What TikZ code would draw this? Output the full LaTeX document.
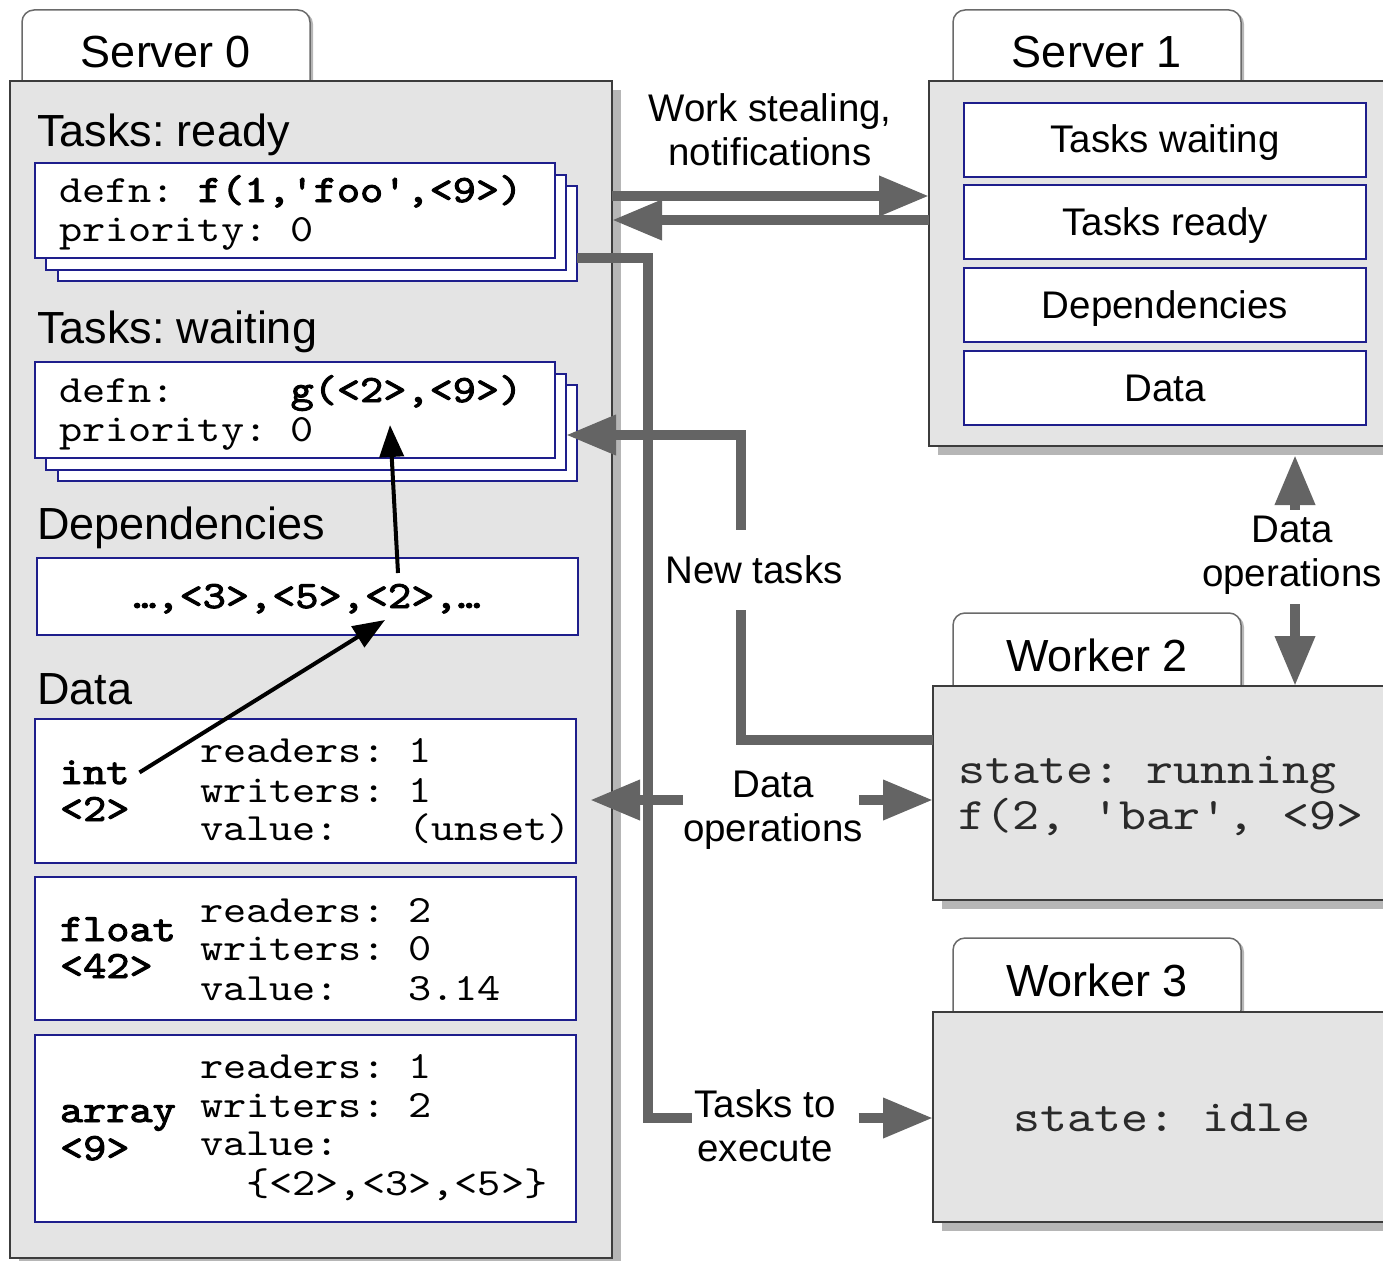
\documentclass[tikz,border=0pt]{standalone}
\usepackage{fontspec}
\setmainfont{Liberation Sans}
\setmonofont{lmmono10-regular.otf}[FakeStretch=1.143, BoldFont=lmmono10-regular.otf, BoldFeatures={FakeBold=2.5}]
\usetikzlibrary{arrows.meta,shadows,calc}
\frenchspacing
\definecolor{boxfill}{HTML}{E4E4E4}
\definecolor{boxline}{HTML}{3C3C3C}
\definecolor{shade}{HTML}{B6B6B6}
\definecolor{navy}{HTML}{1E1E8C}
\definecolor{flow}{HTML}{646464}
\definecolor{tabline}{HTML}{6A6A6A}
\definecolor{wtext}{HTML}{2A2A2A}
\begin{document}
\begin{tikzpicture}[x=1pt,y=-1pt,
  every node/.style={inner sep=0pt, outer sep=0pt},
  tab/.style={draw=tabline, fill=white, line width=1.5pt, rounded corners=12pt,
    anchor=north west, minimum width=288pt, minimum height=84pt,
    font=\fontsize{45}{50}\selectfont,
    drop shadow={shadow xshift=3pt, shadow yshift=-2pt, fill=shade, opacity=1}},
  host/.style={draw=boxline, fill=boxfill, line width=2pt, rectangle, anchor=north west,
    drop shadow={shadow xshift=9pt, shadow yshift=-9pt, fill=shade, opacity=1}},
  slot/.style={draw=navy, fill=white, line width=1.6pt, rectangle, anchor=north west},
  heading/.style={font=\fontsize{45}{50}\selectfont, anchor=base west},
  inlbl/.style={font=\fontsize{38.5}{44}\selectfont, text height=27pt, text depth=1pt},
  flowlbl/.style={font=\fontsize{38.5}{44}\selectfont, align=center},
  mono/.style={font=\ttfamily\fontsize{38.6}{39}\selectfont, anchor=base west},
  wmono/.style={font=\ttfamily\fontsize{45}{46}\selectfont, text=wtext, anchor=base west},
  gline/.style={draw=flow, line width=10pt},
  garrow/.style={draw=flow, line width=10pt, -{Triangle[length=50pt,width=38pt]}},
  barrow/.style={draw=black, line width=4pt, -{Triangle[length=32pt,width=24pt]}}
]
\useasboundingbox (0,0) rectangle (1383,1260);
\clip (0,0) rectangle (1383,1260);

% ---------------- Server 0 ----------------
\node[tab] (tab0) at (22,10) {Server 0};
\node[host, minimum width=602pt, minimum height=1177pt] (srv0) at (10,81) {};

\node[heading] (hready) at (37,147) {Tasks: ready};
\node[slot, minimum width=519pt, minimum height=95pt] (readyC) at (58,186) {};
\node[slot, minimum width=520pt, minimum height=95pt] (readyB) at (46,175) {};
\node[slot, minimum width=520pt, minimum height=95pt] (ready) at (35,163) {};
\node[mono] (rdA) at (59,202) {defn: \textbf{f(1,'foo',<9>)}};
\node[mono] (rdB) at (59,241) {priority: 0};

\node[heading] (hwait) at (37,343) {Tasks: waiting};
\node[slot, minimum width=519pt, minimum height=96pt] (waitC) at (58,385) {};
\node[slot, minimum width=520pt, minimum height=96pt] (waitB) at (46,374) {};
\node[slot, minimum width=520pt, minimum height=96pt] (wait) at (35,362) {};
\node[mono] (wtA) at (59,402) {defn:\hphantom{00000}\textbf{g(<2>,<9>)}};
\node[mono] (wtB) at (59,441) {priority: 0};

\node[heading] (hdeps) at (37,539) {Dependencies};
\node[slot, minimum width=541pt, minimum height=77pt] (deps) at (37,558) {};
\node[mono, anchor=base] (depstxt) at (307,608) {\textbf{…,<3>,<5>,<2>,…}};

\node[heading] (hdata) at (37,704) {Data};
\node[slot, minimum width=541pt, minimum height=144pt] (intbox) at (35,719) {};
\node[mono] (intlbl) at (60,784) {\textbf{int}};
\node[mono] (intid) at (60,821) {\textbf{<2>}};
\node[mono] (intA) at (200,762) {readers: 1};
\node[mono] (intB) at (200,802) {writers: 1};
\node[mono] (intC) at (200,840) {value:\hphantom{000}(unset)};

\node[slot, minimum width=541pt, minimum height=143pt] (floatbox) at (35,877) {};
\node[mono] (fltlbl) at (60,941) {\textbf{float}};
\node[mono] (fltid) at (60,978) {\textbf{<42>}};
\node[mono] (fltA) at (200,922) {readers: 2};
\node[mono] (fltB) at (200,960) {writers: 0};
\node[mono] (fltC) at (200,1000) {value:\hphantom{000}3.14};

\node[slot, minimum width=541pt, minimum height=187pt] (arraybox) at (35,1035) {};
\node[mono] (arrlbl) at (60,1122) {\textbf{array}};
\node[mono] (arrid) at (60,1160) {\textbf{<9>}};
\node[mono] (arrA) at (200,1078) {readers: 1};
\node[mono] (arrB) at (200,1117) {writers: 2};
\node[mono] (arrC) at (200,1155) {value:};
\node[mono] (arrD) at (200,1195) {\hphantom{00}\{<2>,<3>,<5>\}};

% ---------------- Server 1 ----------------
\node[tab] (tab1) at (953,10) {Server 1};
\node[host, minimum width=480pt, minimum height=365pt] (srv1) at (929,81) {};
\node[slot, inlbl, minimum width=402pt, minimum height=74pt] (s1wait) at (964,103) {Tasks waiting};
\node[slot, inlbl, minimum width=402pt, minimum height=74pt] (s1ready) at (964,185) {Tasks ready};
\node[slot, inlbl, minimum width=402pt, minimum height=74pt] (s1deps) at (964,268) {Dependencies};
\node[slot, inlbl, minimum width=402pt, minimum height=74pt] (s1data) at (964,351) {Data};

% ---------------- Workers ----------------
\node[tab] (tab2) at (953,613) {Worker 2};
\node[host, minimum width=480pt, minimum height=214pt] (w2) at (933,686) {};
\node[wmono] (w2a) at (958,783) {state: running};
\node[wmono] (w2b) at (958,829) {f(2, 'bar', <9>};

\node[tab] (tab3) at (953,938) {Worker 3};
\node[host, minimum width=480pt, minimum height=210pt] (w3) at (933,1012) {};
\node[wmono, anchor=base] (w3a) at (1162,1131) {state: idle};

% ---------------- Flows between machines ----------------
\node[flowlbl] (wslbl) at (770,130) {Work stealing,\\notifications};
\draw[garrow] (srv0.east |- 0,196) -- (srv1.west |- 0,196);
\draw[garrow] (srv1.west |- 0,220) -- (srv0.east |- 0,220);

\node[flowlbl] (ttelbl) at (765,1126) {Tasks to\\execute};
\coordinate (tteTop) at (648,258);
\coordinate (tteBend) at (648,1118);
\draw[gline] (readyC.east |- ready.south) -- (tteTop) -- (tteBend) -- ([xshift=-2pt]ttelbl.west |- tteBend);
\draw[garrow] ([xshift=23pt]ttelbl.east |- tteBend) -- (w3.west |- tteBend);

\node[flowlbl, inner ysep=26pt] (ntlbl) at (754,570) {New tasks};
\coordinate (ntLow) at (741,740);
\coordinate (ntHigh) at (741,435);
\draw[gline] (w2.west |- ntLow) -- (ntLow) -- (ntLow |- ntlbl.south);
\draw[garrow] (ntHigh |- ntlbl.north) -- (ntHigh) -- (waitB.east |- ntHigh);

\node[flowlbl] (domid) at (773,810) {Data\\operations};
\draw[garrow] (domid.west |- 0,800) -- ([xshift=14pt]intbox.east |- 0,800);
\draw[garrow] ([xshift=-4pt]domid.east |- 0,800) -- (w2.west |- 0,800);

\node[flowlbl] (doright) at (1292,555) {Data\\operations};
\coordinate (dox) at (1295,0);
\draw[garrow] ([yshift=6pt]doright.north -| dox) -- ([yshift=-9pt]srv1.south -| dox);
\draw[garrow] ([yshift=-10pt]doright.south -| dox) -- (w2.north -| dox);

% ---------------- References inside Server 0 ----------------
\coordinate (depTwoLow) at (385,620);
\coordinate (depTwoHigh) at (398,573);
\coordinate (gTwo) at (390,425);
\draw[barrow] ([xshift=10pt]intlbl.east) -- (depTwoLow);
\draw[barrow] (depTwoHigh) -- (gTwo);
\end{tikzpicture}
\end{document}
